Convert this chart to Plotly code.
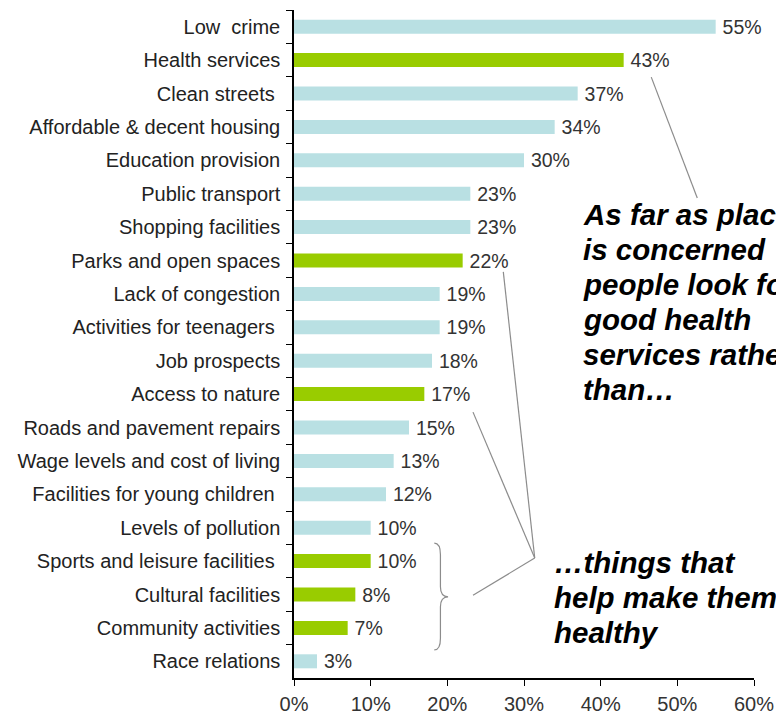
import plotly.graph_objects as go

# Survey: what matters most about the place people live
categories = [
    "Low\u00a0 crime", "Health services", "Clean streets\u00a0", "Affordable & decent housing",
    "Education provision", "Public transport", "Shopping facilities", "Parks and open spaces",
    "Lack of congestion", "Activities for teenagers\u00a0", "Job prospects", "Access to nature",
    "Roads and pavement repairs", "Wage levels and cost of living",
    "Facilities for young children\u00a0", "Levels of pollution",
    "Sports and leisure facilities\u00a0", "Cultural facilities", "Community activities",
    "Race relations",
]
values = [55, 43, 37, 34, 30, 23, 23, 22, 19, 19, 18, 17, 15, 13, 12, 10, 10, 8, 7, 3]
# health-related factors are highlighted
health_related = [False, True, False, False, False, False, False, True, False, False,
                  False, True, False, False, False, False, True, True, True, False]
x_ticks = [0, 10, 20, 30, 40, 50, 60]
x_tick_labels = ["0%", "10%", "20%", "30%", "40%", "50%", "60%"]

BLUE = "#b9e0e3"
GREEN = "#99cc00"
FONT = "Liberation Sans, Arial, sans-serif"
X_MAX = 60
N = len(categories)


def px(pct, idx):
    """Paper coordinates for a value (%) and a category position (0 = top row)."""
    return pct / X_MAX, 1 - (idx + 0.5) / N


fig = go.Figure()
fig.add_trace(go.Bar(
    x=values, y=categories, orientation="h",
    marker=dict(color=[GREEN if h else BLUE for h in health_related], line=dict(width=0)),
    text=[f"\u2009{v}%" for v in values], textposition="outside", constraintext="none",
    textfont=dict(family=FONT, size=19.5, color="#333333"),
    cliponaxis=False, hoverinfo="skip",
))

line_style = dict(color="#8c8c8c", width=1.2)
shapes = []


def seg(a, b):
    x0, y0 = px(*a)
    x1, y1 = px(*b)
    shapes.append(dict(type="line", xref="paper", yref="paper",
                       x0=x0, y0=y0, x1=x1, y1=y1, line=line_style))


# pointer from "Health services" to the first callout
seg((46.6, 1.51), (52.6, 5.13))
# pointers from the green factors to the second callout
meet = (31.4, 15.91)
seg((27.3, 7.34), meet)
seg((23.35, 11.54), meet)
seg((23.35, 17.02), meet)

# curly brace grouping the last three green bars
bx0, bx1, btip = 18.3, 19.1, 20.1
ytop, ymid, ybot = 15.46, 17.07, 18.66


def P(x, y):
    a, b = px(x, y)
    return f"{a:.5f},{b:.5f}"


brace = (f"M{P(bx0, ytop)} Q{P(bx1, ytop)} {P(bx1, ytop + 0.35)} "
         f"L{P(bx1, ymid - 0.3)} Q{P(bx1, ymid)} {P(btip, ymid)} "
         f"Q{P(bx1, ymid)} {P(bx1, ymid + 0.3)} "
         f"L{P(bx1, ybot - 0.35)} Q{P(bx1, ybot)} {P(bx0, ybot)}")
shapes.append(dict(type="path", xref="paper", yref="paper", path=brace,
                   line=line_style))

annotations = []
callout_font = dict(family=FONT, size=29.5, color="#000000")


def callout(lines, x_pct, first_idx, step):
    for i, t in enumerate(lines):
        xx, yy = px(x_pct, first_idx + i * step)
        annotations.append(dict(
            xref="paper", yref="paper", x=xx, y=yy, xanchor="left", yanchor="middle",
            text=f"<b><i>{t}</i></b>", showarrow=False, font=callout_font,
        ))


callout(["As far as place", "is concerned", "people look for", "good health",
         "services rather", "than\u2026"], 37.4, 5.61, 1.048)
callout(["\u2026things that", "help make them", "healthy"], 33.7, 16.03, 1.048)

fig.update_layout(
    width=776, height=715,
    margin=dict(l=294, r=22, t=10, b=37, autoexpand=False),
    paper_bgcolor="white", plot_bgcolor="white",
    bargap=0.58, showlegend=False,
    font=dict(family=FONT, color="#1a1a1a"),
    shapes=shapes, annotations=annotations,
    xaxis=dict(
        range=[0, X_MAX], tickvals=x_ticks, ticktext=x_tick_labels, automargin=False,
        showgrid=False, zeroline=False, showline=True, linecolor="#000000", linewidth=1.5,
        ticks="outside", ticklen=6, tickcolor="#000000", ticklabelstandoff=1,
        tickfont=dict(family=FONT, size=20, color="#333333"), fixedrange=True,
    ),
    yaxis=dict(
        autorange="reversed", showgrid=False, zeroline=False, automargin=False,
        showline=True, linecolor="#000000", linewidth=1.5,
        ticks="outside", ticklen=6, tickcolor="#000000", tickson="boundaries",
        ticklabelstandoff=8,
        tickfont=dict(family=FONT, size=20, color="#222222"), fixedrange=True,
    ),
)

fig.write_html("out.html")
